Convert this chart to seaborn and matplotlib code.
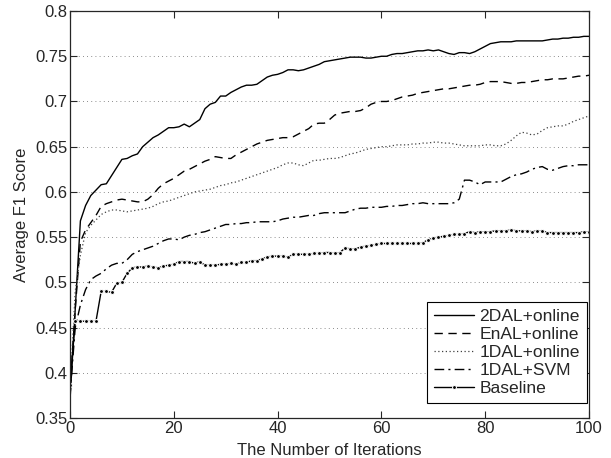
import numpy as np
import pandas as pd
import seaborn as sb
import matplotlib
matplotlib.use("Agg")
import matplotlib.pyplot as plt
from matplotlib.ticker import FuncFormatter

iters = list(range(101))

dal2_online = [
    0.370, 0.470, 0.568, 0.585, 0.596, 0.602, 0.608, 0.609, 0.618, 0.627,
    0.636, 0.637, 0.640, 0.642, 0.650, 0.655, 0.660, 0.663, 0.667, 0.671,
    0.671, 0.672, 0.675, 0.672, 0.676, 0.680, 0.692, 0.697, 0.699, 0.706,
    0.706, 0.710, 0.713, 0.716, 0.718, 0.718, 0.719, 0.723, 0.727, 0.729,
    0.730, 0.732, 0.735, 0.735, 0.734, 0.735, 0.737, 0.739, 0.741, 0.744,
    0.745, 0.746, 0.747, 0.748, 0.749, 0.749, 0.749, 0.748, 0.748, 0.749,
    0.750, 0.750, 0.752, 0.753, 0.753, 0.754, 0.755, 0.756, 0.756, 0.757,
    0.756, 0.757, 0.755, 0.753, 0.752, 0.754, 0.754, 0.753, 0.755, 0.758,
    0.761, 0.764, 0.765, 0.766, 0.766, 0.766, 0.767, 0.767, 0.767, 0.767,
    0.767, 0.767, 0.768, 0.769, 0.769, 0.770, 0.770, 0.771, 0.771, 0.772,
    0.772]

enal_online = [
    0.380, 0.470, 0.545, 0.558, 0.566, 0.574, 0.584, 0.587, 0.589, 0.591,
    0.592, 0.591, 0.590, 0.589, 0.589, 0.592, 0.597, 0.604, 0.609, 0.612,
    0.615, 0.619, 0.623, 0.625, 0.628, 0.631, 0.634, 0.636, 0.639, 0.638,
    0.637, 0.637, 0.641, 0.644, 0.647, 0.650, 0.653, 0.655, 0.657, 0.658,
    0.659, 0.660, 0.660, 0.661, 0.664, 0.667, 0.670, 0.675, 0.676, 0.676,
    0.680, 0.685, 0.687, 0.688, 0.689, 0.689, 0.690, 0.693, 0.697, 0.699,
    0.700, 0.700, 0.701, 0.703, 0.705, 0.706, 0.707, 0.709, 0.710, 0.711,
    0.712, 0.713, 0.714, 0.714, 0.715, 0.716, 0.717, 0.718, 0.718, 0.719,
    0.721, 0.722, 0.722, 0.722, 0.721, 0.720, 0.720, 0.721, 0.721, 0.722,
    0.723, 0.724, 0.724, 0.725, 0.725, 0.725, 0.726, 0.727, 0.728, 0.728,
    0.729]

dal1_online = [
    0.380, 0.490, 0.530, 0.555, 0.563, 0.569, 0.575, 0.578, 0.580, 0.580,
    0.579, 0.578, 0.579, 0.580, 0.581, 0.582, 0.584, 0.587, 0.589, 0.590,
    0.592, 0.594, 0.596, 0.598, 0.600, 0.601, 0.602, 0.603, 0.605, 0.607,
    0.608, 0.610, 0.611, 0.613, 0.615, 0.617, 0.619, 0.621, 0.623, 0.625,
    0.627, 0.630, 0.632, 0.632, 0.630, 0.629, 0.632, 0.635, 0.635, 0.636,
    0.637, 0.637, 0.638, 0.640, 0.642, 0.643, 0.645, 0.647, 0.648, 0.649,
    0.650, 0.650, 0.651, 0.652, 0.652, 0.652, 0.653, 0.653, 0.654, 0.654,
    0.655, 0.655, 0.654, 0.654, 0.653, 0.652, 0.651, 0.651, 0.651, 0.651,
    0.652, 0.652, 0.651, 0.651, 0.653, 0.657, 0.662, 0.666, 0.665, 0.663,
    0.664, 0.668, 0.671, 0.672, 0.673, 0.673, 0.675, 0.678, 0.680, 0.682,
    0.684]

dal1_svm = [
    0.375, 0.450, 0.475, 0.492, 0.503, 0.507, 0.510, 0.515, 0.519, 0.521,
    0.521, 0.525, 0.531, 0.534, 0.536, 0.538, 0.540, 0.543, 0.546, 0.548,
    0.548, 0.547, 0.550, 0.552, 0.553, 0.555, 0.556, 0.558, 0.560, 0.562,
    0.564, 0.564, 0.565, 0.565, 0.566, 0.566, 0.567, 0.567, 0.567, 0.567,
    0.568, 0.570, 0.571, 0.572, 0.572, 0.573, 0.574, 0.574, 0.576, 0.577,
    0.577, 0.577, 0.577, 0.577, 0.579, 0.581, 0.582, 0.582, 0.583, 0.583,
    0.583, 0.584, 0.584, 0.585, 0.585, 0.586, 0.587, 0.587, 0.588, 0.587,
    0.587, 0.587, 0.587, 0.587, 0.588, 0.592, 0.613, 0.613, 0.611, 0.608,
    0.611, 0.611, 0.611, 0.611, 0.614, 0.617, 0.619, 0.620, 0.622, 0.625,
    0.627, 0.628, 0.625, 0.624, 0.626, 0.628, 0.629, 0.629, 0.630, 0.630,
    0.630]

baseline = [
    0.387, 0.457, 0.457, 0.457, 0.457, 0.457, 0.490, 0.490, 0.489, 0.499,
    0.500, 0.510, 0.516, 0.517, 0.517, 0.518, 0.517, 0.516, 0.518, 0.519,
    0.520, 0.523, 0.523, 0.523, 0.521, 0.523, 0.519, 0.519, 0.519, 0.520,
    0.520, 0.521, 0.520, 0.522, 0.522, 0.524, 0.524, 0.526, 0.528, 0.529,
    0.529, 0.529, 0.528, 0.531, 0.531, 0.531, 0.531, 0.532, 0.532, 0.533,
    0.533, 0.532, 0.533, 0.538, 0.537, 0.537, 0.539, 0.540, 0.541, 0.542,
    0.543, 0.543, 0.543, 0.543, 0.543, 0.543, 0.543, 0.543, 0.544, 0.547,
    0.549, 0.550, 0.551, 0.552, 0.553, 0.553, 0.554, 0.556, 0.555, 0.556,
    0.556, 0.556, 0.557, 0.557, 0.557, 0.558, 0.557, 0.557, 0.557, 0.556,
    0.557, 0.557, 0.555, 0.555, 0.555, 0.555, 0.555, 0.555, 0.555, 0.556,
    0.556]

series_names = ["2DAL+online", "EnAL+online", "1DAL+online", "1DAL+SVM", "Baseline"]
yticks = [0.35, 0.4, 0.45, 0.5, 0.55, 0.6, 0.65, 0.7, 0.75, 0.8]
xticks = [0, 20, 40, 60, 80, 100]

sb.set_style("ticks")
plt.rcParams["font.family"] = ["Liberation Sans", "DejaVu Sans"]

fig = plt.figure(figsize=(6.11, 4.58), dpi=100)
ax = fig.add_axes([0.1146, 0.0873, 0.8494, 0.8886])

styles = [
    dict(color="black", linestyle="-", linewidth=1.0),
    dict(color="black", linestyle=(0, (6, 4)), linewidth=1.0),
    dict(color="0.25", linestyle=(0, (1, 2)), linewidth=0.9),
    dict(color="black", linestyle=(0, (7, 3, 1.5, 3)), linewidth=1.0),
    dict(color="black", linestyle="-", linewidth=1.0, marker="o", markersize=2.8),
]
values = [dal2_online, enal_online, dal1_online, dal1_svm, baseline]

for name, vals, st in zip(series_names, values, styles):
    df = pd.DataFrame({"iter": iters, "f1": vals})
    sb.lineplot(data=df, x="iter", y="f1", ax=ax, label=name, **st)

ax.set_xlim(0, 100)
ax.set_ylim(0.35, 0.8)
ax.set_xticks(xticks)
ax.set_yticks(yticks)
ax.yaxis.set_major_formatter(FuncFormatter(lambda v, p: f"{v:g}"))
ax.grid(axis="y", linestyle=(0, (1, 4)), color="black", linewidth=0.6, alpha=0.6)
ax.grid(axis="x", visible=False)
ax.tick_params(direction="in", top=True, right=True, labelsize=12, length=5,
               width=0.8, pad=2)
for s in ax.spines.values():
    s.set_linewidth(0.9)
    s.set_visible(True)
ax.set_xlabel("The Number of Iterations", fontsize=12, labelpad=5)
ax.set_ylabel("Average F1 Score", fontsize=12, labelpad=4)

leg = ax.legend(loc="lower right", bbox_to_anchor=(0.996, 0.037), fontsize=12.6,
                frameon=True, fancybox=False, edgecolor="black", framealpha=1,
                borderaxespad=0, handlelength=2.3, handletextpad=0.3,
                labelspacing=0.15, borderpad=0.4)
leg.get_frame().set_linewidth(0.8)

plt.savefig("out.png", dpi=100)
plt.close()
